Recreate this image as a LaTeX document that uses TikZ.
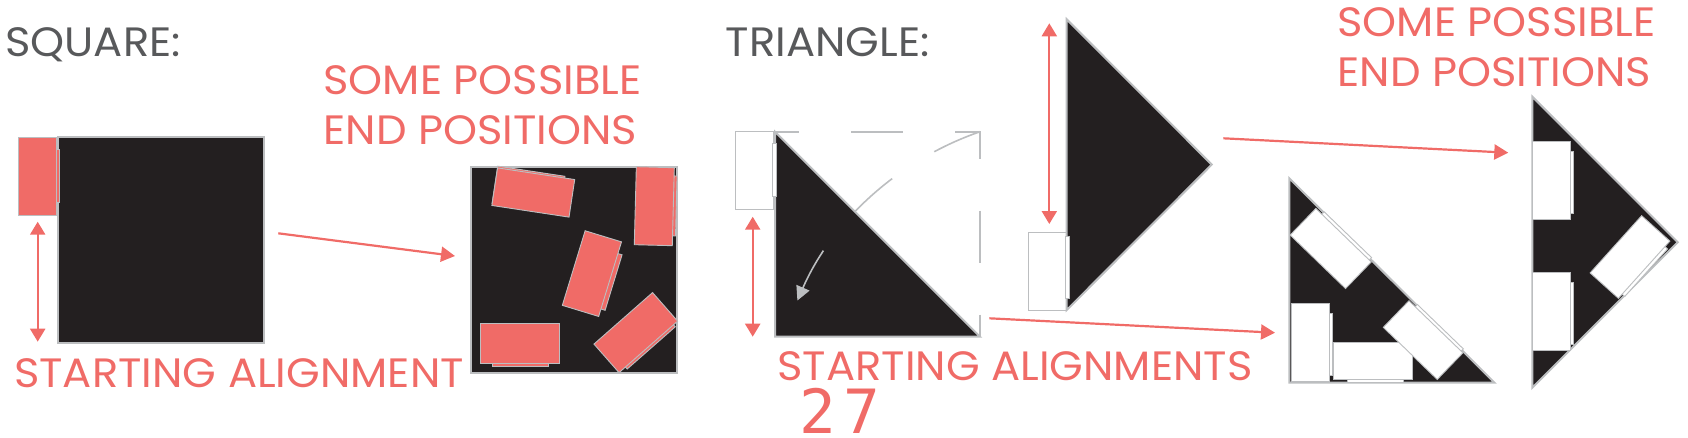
\documentclass[tikz,border=0pt]{standalone}
\usepackage{fontspec}
\setmainfont{Poppins}[FakeStretch=1.055]
\newfontfamily\digitfont{DejaVu Sans Mono}
\usetikzlibrary{arrows.meta}
\definecolor{cred}{HTML}{F06B67}
\definecolor{cblack}{HTML}{231F20}
\definecolor{cgray}{HTML}{BCBEC0}
\definecolor{ctext}{HTML}{58595B}
\begin{document}
\begin{tikzpicture}[x=1pt,y=-1pt,
  blk/.style={fill=cblack, draw=cgray, line width=2pt},
  rrect/.style={draw=cgray, line width=0.9pt, fill=cred, inner sep=0pt, outer sep=0pt},
  wrect/.style={draw=cgray, line width=0.9pt, fill=white, inner sep=0pt, outer sep=0pt},
  hz/.style={minimum width=78pt, minimum height=38pt},
  vt/.style={minimum width=38pt, minimum height=78pt},
  redarrow/.style={draw=cred, line width=2.2pt, -{Triangle[length=14pt,width=15pt]}},
  dblarrow/.style={draw=cred, line width=2.2pt, {Triangle[length=13pt,width=15pt]}-{Triangle[length=13pt,width=15pt]}},
  gline/.style={draw=cgray, line width=1.6pt},
  head/.style={font=\fontsize{41}{50}\selectfont, text=ctext, inner sep=0pt, anchor=base west},
  lbl/.style={font=\fontsize{41}{50}\selectfont, text=cred, inner sep=0pt, anchor=base west},
]
\useasboundingbox (0,0) rectangle (1688,437);

% ---------- texts
\node[head] (tsq) at (5,56.7) {SQUARE:};
\node[head] (ttri) at (725.7,56.7) {TRIANGLE:};
\node[lbl] (e1a) at (323.3,94.3) {SOME POSSIBLE};
\node[lbl] (e1b) at (323.3,144.3) {END POSITIONS};
\node[lbl] (e2a) at (1337.3,36.7) {SOME POSSIBLE};
\node[lbl] (e2b) at (1337.3,86.7) {END POSITIONS};
\node[lbl] (s1) at (14,387.7) {STARTING ALIGNMENT};
\node[lbl] (s2) at (777.3,380) {STARTING ALIGNMENTS};
\node[font=\digitfont\fontsize{61}{61}\selectfont, text=cred, inner sep=0pt, anchor=base west] (pg) at (799,433.5) {2\kern8pt 7};

% ---------- square, start
\path[blk] (57.7,136.7) rectangle (264.3,342.7);
\node[rrect, vt] (sr) at (37.5,176.2) {};
\path[rrect] (56.7,149.3) rectangle (59.3,202.7);
\coordinate (sa1t) at (37.7,221.7);
\coordinate (sa1b) at (37.7,341.7);
\draw[dblarrow] (sa1t) -- (sa1b);

% ---------- square, end positions
\path[blk] (470.7,166.7) rectangle (677.3,372.7);
\node[rrect, minimum width=68pt, minimum height=38pt, rotate=-8.6] (r1g) at (528.5,190) {};
\node[rrect, hz, rotate=-8.6] (r1) at (533.3,192.5) {};
\node[rrect, minimum width=38pt, minimum height=60pt, rotate=-1.5] (r2g) at (657.3,205.5) {};
\node[rrect, vt, rotate=-1.5] (r2) at (654.3,206.2) {};
\node[rrect, minimum width=38pt, minimum height=58pt, rotate=-17] (r3g) at (595.4,277) {};
\node[rrect, vt, rotate=-17] (r3) at (591.9,273.6) {};
\node[rrect, minimum width=56pt, minimum height=40pt] (r4g) at (520,346.5) {};
\node[rrect, minimum width=79pt, minimum height=40pt] (r4) at (519.7,343.3) {};
\node[rrect, minimum width=64pt, minimum height=37pt, rotate=41.3] (r5g) at (639,334) {};
\node[rrect, hz, rotate=41.3] (r5) at (635.8,332.6) {};

\coordinate (a1s) at (278.3,233.3);
\coordinate (a1e) at (455,256);
\draw[redarrow] (a1s) -- (a1e);

% ---------- triangle, start (corner)
\node[wrect, vt] (tw1) at (754.2,170.5) {};
\path[blk] (775,131.7) -- (775,336.7) -- (980,336.7) -- cycle;
\path[wrect] (772.7,143.3) rectangle (776.7,196.7);
\coordinate (dq0) at (775,131.7);
\coordinate (dq1) at (980,131.7);
\coordinate (dq2) at (980,336.7);
\draw[gline, dash pattern=on 52pt off 52pt, dash phase=28pt] (dq0) -- (dq1) -- (dq2);
\draw[gline, dash pattern=on 50pt off 50pt, -{Triangle[length=14pt,width=14pt]}] (dq1) arc[start angle=250.9, end angle=203.6, radius=310];
\coordinate (sa2t) at (752.7,216.7);
\coordinate (sa2b) at (752.7,336.7);
\draw[dblarrow] (sa2t) -- (sa2b);

% ---------- triangle, start (hypotenuse)
\node[wrect, vt] (tw2) at (1047,271.2) {};
\path[blk] (1066.7,19.3) -- (1066.7,310) -- (1211.7,164.6) -- cycle;
\path[wrect] (1065.7,236.7) rectangle (1069.5,298.3);
\coordinate (sa3t) at (1049.3,23.3);
\coordinate (sa3b) at (1049.3,224);
\draw[dblarrow] (sa3t) -- (sa3b);

% ---------- arrows to end positions
\coordinate (a2s) at (989.3,318.3);
\coordinate (a2e) at (1275,332.7);
\draw[redarrow] (a2s) -- (a2e);
\coordinate (a3s) at (1223.3,138.3);
\coordinate (a3e) at (1508.3,152.7);
\draw[redarrow] (a3s) -- (a3e);

% ---------- triangle end positions (corner)
\path[blk] (1289.3,178.3) -- (1289.3,382.7) -- (1494.5,382.7) -- cycle;
\node[wrect, minimum width=66pt, minimum height=37pt, rotate=-44] (w1g) at (1335,248) {};
\node[wrect, minimum width=77pt, minimum height=37pt, rotate=-44] (w1) at (1330.7,248.5) {};
\node[wrect, minimum width=38pt, minimum height=62pt] (w2g) at (1313.3,344) {};
\node[wrect, vt] (w2) at (1310.8,342) {};
\node[wrect, minimum width=56pt, minimum height=37pt] (w3g) at (1375,363.5) {};
\node[wrect, minimum width=79pt, minimum height=37pt] (w3) at (1373.3,360.8) {};
\node[wrect, minimum width=64pt, minimum height=37pt, rotate=-44] (w4g) at (1427.5,340) {};
\node[wrect, minimum width=75pt, minimum height=37pt, rotate=-44] (w4) at (1423.1,340.1) {};

% ---------- triangle end positions (hypotenuse)
\path[blk] (1532.3,96.7) -- (1532.3,387.7) -- (1677.7,242.2) -- cycle;
\node[wrect, minimum width=38pt, minimum height=62pt] (w5g) at (1554,182.5) {};
\node[wrect, vt] (w5) at (1551.2,180.5) {};
\node[wrect, minimum width=38pt, minimum height=62pt] (w6g) at (1554,313.3) {};
\node[wrect, vt] (w6) at (1551.2,311.3) {};
\node[wrect, minimum width=64pt, minimum height=38pt, rotate=48] (w7g) at (1632,260) {};
\node[wrect, minimum width=77pt, minimum height=38pt, rotate=48] (w7) at (1630,257) {};
\end{tikzpicture}
\end{document}
